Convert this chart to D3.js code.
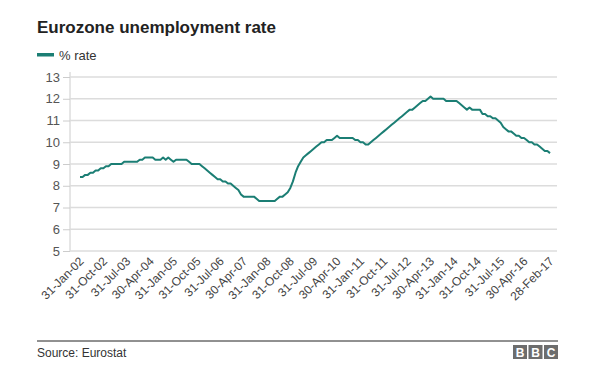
<!DOCTYPE html>
<html>
<head>
<meta charset="utf-8">
<script src="https://cdn.jsdelivr.net/npm/d3@7"></script>
<style>
  html, body { margin: 0; padding: 0; background: #fff; }
  svg { display: block; font-family: "Liberation Sans", Arial, Helvetica, sans-serif; }
</style>
</head>
<body>
<svg id="chart" width="600" height="377"></svg>
<script>
// ---- Data ----
const startYear = 2002, startMonth = 0; // Jan 2002, monthly observations
const rates = [
  // 2002
  8.4, 8.4, 8.5, 8.5, 8.6, 8.6, 8.7, 8.7, 8.8, 8.8, 8.9, 8.9,
  // 2003
  9.0, 9.0, 9.0, 9.0, 9.0, 9.1, 9.1, 9.1, 9.1, 9.1, 9.1, 9.2,
  // 2004
  9.2, 9.3, 9.3, 9.3, 9.3, 9.2, 9.2, 9.2, 9.3, 9.2, 9.3, 9.2,
  // 2005
  9.1, 9.2, 9.2, 9.2, 9.2, 9.2, 9.1, 9.0, 9.0, 9.0, 9.0, 8.9,
  // 2006
  8.8, 8.7, 8.6, 8.5, 8.4, 8.3, 8.3, 8.2, 8.2, 8.1, 8.1, 8.0,
  // 2007
  7.9, 7.8, 7.6, 7.5, 7.5, 7.5, 7.5, 7.5, 7.4, 7.3, 7.3, 7.3,
  // 2008
  7.3, 7.3, 7.3, 7.3, 7.4, 7.5, 7.5, 7.6, 7.7, 7.9, 8.2, 8.6,
  // 2009
  8.9, 9.1, 9.3, 9.4, 9.5, 9.6, 9.7, 9.8, 9.9, 10.0, 10.0, 10.1,
  // 2010
  10.1, 10.1, 10.2, 10.3, 10.2, 10.2, 10.2, 10.2, 10.2, 10.2, 10.1, 10.1,
  // 2011
  10.0, 10.0, 9.9, 9.9, 10.0, 10.1, 10.2, 10.3, 10.4, 10.5, 10.6, 10.7,
  // 2012
  10.8, 10.9, 11.0, 11.1, 11.2, 11.3, 11.4, 11.5, 11.5, 11.6, 11.7, 11.8,
  // 2013
  11.9, 11.9, 12.0, 12.1, 12.0, 12.0, 12.0, 12.0, 12.0, 11.9, 11.9, 11.9,
  // 2014
  11.9, 11.9, 11.8, 11.7, 11.6, 11.5, 11.6, 11.5, 11.5, 11.5, 11.5, 11.3,
  // 2015
  11.3, 11.2, 11.2, 11.1, 11.1, 11.0, 10.9, 10.7, 10.6, 10.5, 10.5, 10.4,
  // 2016
  10.3, 10.3, 10.2, 10.2, 10.1, 10.0, 10.0, 9.9, 9.9, 9.8, 9.7, 9.6,
  // 2017
  9.6, 9.5
];
const xTickLabels = ["31-Jan-02","31-Oct-02","31-Jul-03","30-Apr-04","31-Jan-05","31-Oct-05",
  "31-Jul-06","30-Apr-07","31-Jan-08","31-Oct-08","31-Jul-09","30-Apr-10","31-Jan-11",
  "31-Oct-11","31-Jul-12","30-Apr-13","31-Jan-14","31-Oct-14","31-Jul-15","30-Apr-16","28-Feb-17"];
const xTickIndex = [0,9,18,27,36,45,54,63,72,81,90,99,108,117,126,135,144,153,162,171,181];
const yTicks = [5,6,7,8,9,10,11,12,13];
const title = "Eurozone unemployment rate";
const seriesName = "% rate";
const source = "Source: Eurostat";

const data = rates.map((v, i) => ({ i, v }));

// ---- Layout ----
const svg = d3.select("#chart");
const lineColor = "#1b7e74";
const plot = { left: 70, right: 557, top: 77, bottom: 251 };

const x = d3.scaleLinear().domain([0, rates.length - 1]).range([80, 550]);
const y = d3.scaleLinear().domain([5, 13]).range([plot.bottom, plot.top]);

// Title
svg.append("text").attr("x", 37).attr("y", 33)
  .attr("font-size", 17).attr("font-weight", "bold").attr("fill", "#222")
  .text(title);

// Legend
svg.append("rect").attr("x", 37).attr("y", 53).attr("width", 17).attr("height", 3.5)
  .attr("fill", lineColor);
svg.append("text").attr("x", 59).attr("y", 59.5)
  .attr("font-size", 13).attr("fill", "#333").text(seriesName);

// Y axis with gridlines
const yAxis = d3.axisLeft(y).tickValues(yTicks).tickSize(7).tickPadding(3);
const gy = svg.append("g").attr("transform", `translate(${plot.left},0)`).call(yAxis);
gy.select(".domain").attr("stroke", "#ccc").attr("stroke-width", 1)
  .attr("d", `M0,${plot.top - 5}V${plot.bottom}`);
gy.selectAll(".tick line").attr("stroke", "#ccc");
gy.selectAll(".tick text").attr("font-size", 13).attr("fill", "#555")
  .attr("font-family", "Liberation Sans, Arial, sans-serif");

svg.append("g").selectAll("line").data(yTicks).join("line")
  .attr("x1", plot.left).attr("x2", plot.right)
  .attr("y1", d => y(d)).attr("y2", d => y(d))
  .attr("stroke", "#dcdcdc").attr("stroke-width", 1.5);

// X axis labels
const xAxis = d3.axisBottom(x).tickValues(xTickIndex)
  .tickFormat((d, k) => xTickLabels[k]).tickSize(0).tickPadding(0);
const gx = svg.append("g").attr("transform", `translate(0,${plot.bottom})`).call(xAxis);
gx.select(".domain").remove();
gx.selectAll(".tick text")
  .attr("font-size", 12).attr("fill", "#444")
  .attr("font-family", "Liberation Sans, Arial, sans-serif")
  .attr("text-anchor", "end")
  .attr("dy", null).attr("y", null)
  .attr("transform", "translate(4,11) rotate(-45)");

// Line
const line = d3.line().x(d => x(d.i)).y(d => y(d.v));
svg.append("path").datum(data)
  .attr("d", line).attr("fill", "none")
  .attr("stroke", lineColor).attr("stroke-width", 2)
  .attr("stroke-linejoin", "round");

// Footer
svg.append("line").attr("x1", 37).attr("x2", 558).attr("y1", 341).attr("y2", 341)
  .attr("stroke", "#222").attr("stroke-width", 1);
svg.append("text").attr("x", 37).attr("y", 357)
  .attr("font-size", 12).attr("fill", "#333").text(source);

const bbc = ["B", "B", "C"];
const bw = 14, bgap = 1.5, bright = 558;
const bx0 = bright - (bw * 3 + bgap * 2);
const gb = svg.append("g");
gb.selectAll("rect").data(bbc).join("rect")
  .attr("x", (d, k) => bx0 + k * (bw + bgap)).attr("y", 345)
  .attr("width", bw).attr("height", 14).attr("fill", "#6d6d6d");
gb.selectAll("text").data(bbc).join("text")
  .attr("x", (d, k) => bx0 + k * (bw + bgap) + bw / 2).attr("y", 356.5)
  .attr("text-anchor", "middle").attr("font-size", 12).attr("font-weight", "bold")
  .attr("fill", "#fff").text(d => d);
</script>
</body>
</html>
